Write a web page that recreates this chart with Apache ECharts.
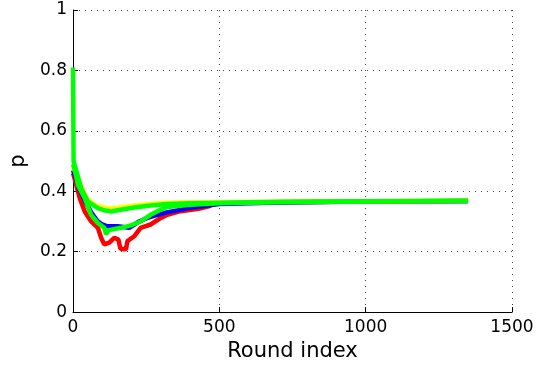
<!DOCTYPE html>
<html>
<head>
<meta charset="utf-8">
<script src="https://cdn.jsdelivr.net/npm/echarts@6/dist/echarts.min.js"></script>
<style>
html,body{margin:0;padding:0;background:#fff;}
#chart{width:537px;height:367px;}
</style>
</head>
<body>
<div id="chart"></div>
<script>
// x: round index, y: p
const xTicks = [0, 500, 1000, 1500];
const yTicks = [0, 0.2, 0.4, 0.6, 0.8, 1];

const redSeries = [[0,0.46],[6,0.44],[23,0.377],[40,0.333],[62,0.30],[85,0.279],[96,0.246],[107,0.224],[124,0.23],[141,0.246],[155,0.24],[162,0.21],[181,0.208],[186,0.235],[209,0.251],[231,0.279],[265,0.29],[299,0.311],[322,0.322],[361,0.333],[429,0.342],[463,0.35],[480,0.358],[500,0.361],[700,0.364],[1000,0.366],[1350,0.368]];
const blueSeries = [[0,0.47],[6,0.455],[20,0.41],[40,0.37],[62,0.33],[85,0.30],[100,0.29],[118,0.284],[152,0.284],[192,0.279],[210,0.29],[226,0.30],[250,0.31],[271,0.317],[320,0.33],[400,0.345],[500,0.358],[700,0.363],[1000,0.366],[1350,0.368]];
const yellowSeries = [[0,0.48],[10,0.46],[30,0.41],[50,0.372],[80,0.352],[120,0.343],[160,0.346],[200,0.352],[260,0.358],[320,0.362],[400,0.363],[500,0.364],[700,0.365],[1000,0.367],[1350,0.369]];
const greenLowerSeries = [[0,0.49],[6,0.47],[17,0.42],[40,0.377],[62,0.322],[85,0.295],[107,0.279],[113,0.257],[120,0.27],[130,0.273],[164,0.279],[197,0.287],[231,0.30],[265,0.322],[299,0.339],[322,0.348],[400,0.355],[500,0.36],[700,0.364],[1000,0.366],[1350,0.368]];
const greenUpperSeries = [[0,0.81],[2,0.5],[6,0.486],[28,0.41],[51,0.366],[85,0.344],[110,0.336],[130,0.333],[163,0.339],[209,0.346],[265,0.353],[322,0.358],[400,0.36],[500,0.362],[700,0.365],[1000,0.367],[1350,0.369]];

const seriesDefs = [
  {name:'red', color:'#ff0000', data:redSeries},
  {name:'blue', color:'#0000ff', data:blueSeries},
  {name:'yellow', color:'#ffff00', data:yellowSeries},
  {name:'green1', color:'#00ff00', data:greenLowerSeries},
  {name:'green2', color:'#00ff00', data:greenUpperSeries}
];

const chart = echarts.init(document.getElementById('chart'), null, {renderer:'canvas'});
const font = 'DejaVu Sans';
chart.setOption({
  animation:false,
  backgroundColor:'#fff',
  grid:{left:70, right:25, top:10, bottom:52, containLabel:false},
  xAxis:{
    type:'value', min:xTicks[0], max:xTicks[xTicks.length-1], interval:500,
    name:'Round index', nameLocation:'middle', nameGap:24,
    nameTextStyle:{color:'#000', fontSize:21, fontFamily:font},
    axisLine:{lineStyle:{color:'#000', width:1}},
    axisTick:{inside:true, length:5, lineStyle:{color:'#000'}},
    axisLabel:{color:'#000', fontSize:17, fontFamily:font, margin:7, formatter:v => String(v)},
    splitLine:{show:true, lineStyle:{color:'#444', type:[1,5], width:1}}
  },
  yAxis:{
    type:'value', min:yTicks[0], max:yTicks[yTicks.length-1], interval:0.2,
    name:'p', nameLocation:'middle', nameGap:44, nameRotate:90,
    nameTextStyle:{color:'#000', fontSize:21, fontFamily:font},
    axisLine:{show:true, lineStyle:{color:'#000', width:1}},
    axisTick:{show:true, inside:true, length:5, lineStyle:{color:'#000'}},
    axisLabel:{color:'#000', fontSize:17, fontFamily:font, margin:6},
    splitLine:{show:true, lineStyle:{color:'#444', type:[1,5], width:1}}
  },
  series: seriesDefs.map(s => ({
    name:s.name, type:'line', data:s.data, showSymbol:false, symbol:'none',
    lineStyle:{color:s.color, width:4.5}, itemStyle:{color:s.color}
  }))
});
</script>
</body>
</html>
